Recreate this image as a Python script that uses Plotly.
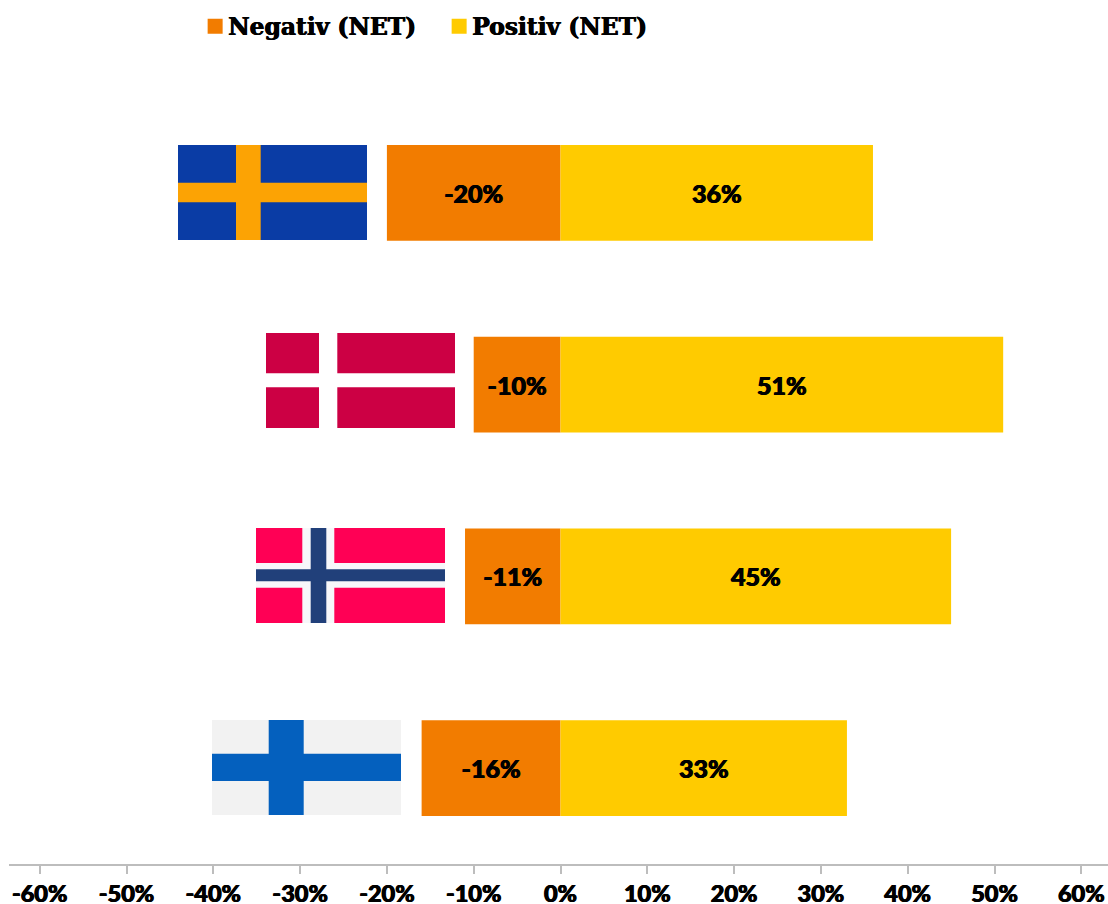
import plotly.graph_objects as go

countries = ["Sverige", "Danmark", "Norge", "Finland"]
negativ = [-20, -10, -11, -16]
positiv = [36, 51, 45, 33]
tick_values = [-60, -50, -40, -30, -20, -10, 0, 10, 20, 30, 40, 50, 60]
tick_labels = ["-60%", "-50%", "-40%", "-30%", "-20%", "-10%", "0%", "10%", "20%", "30%", "40%", "50%", "60%"]

W, H = 1108, 904
ML, MR, MT, MB = 9, 0, 97, 40
PX_PER_UNIT = 8.68
ZERO_PX = 560.5
X_RANGE = [(ML - ZERO_PX) / PX_PER_UNIT, (W - MR - ZERO_PX) / PX_PER_UNIT]
BAND = (H - MT - MB) / 4
ORANGE, YELLOW = "#F27C00", "#FFCB00"


def ux(px):
    return (px - ZERO_PX) / PX_PER_UNIT


def uy(px):
    return (px - MT) / BAND - 0.5


def rect(x0, x1, y0, y1, color):
    return dict(type="rect", xref="x", yref="y", x0=ux(x0), x1=ux(x1), y0=uy(y0), y1=uy(y1),
                fillcolor=color, line_width=0, layer="above")


flags = [
    rect(178, 367, 145, 240, "#0A3CA5"),
    rect(236, 260.7, 145, 240, "#FCA304"),
    rect(178, 367, 182.7, 202.3, "#FCA304"),

    rect(266, 455, 333, 428, "#CC0044"),
    rect(319, 337.3, 333, 428, "#FFFFFF"),
    rect(266, 455, 373.3, 387.3, "#FFFFFF"),

    rect(256, 445, 528, 623, "#FF0055"),
    rect(302.3, 334.3, 528, 623, "#F7F7FA"),
    rect(256, 445, 563, 587.7, "#F7F7FA"),
    rect(310.7, 326.3, 528, 623, "#21407A"),
    rect(256, 445, 569.3, 581.3, "#21407A"),

    rect(212, 401, 720, 815, "#F2F2F2"),
    rect(268.7, 303.7, 720, 815, "#0460BE"),
    rect(212, 401, 753.7, 781, "#0460BE"),
]

thick = "0.5px 0 0 #000, -0.5px 0 0 #000"
label_font = dict(family="Lato, Roboto, sans-serif", size=25, color="#000000", weight=900, shadow=thick)
tick_font = dict(family="Lato, Roboto, sans-serif", size=23.5, color="#000000", weight=900, shadow=thick)

fig = go.Figure()
fig.add_bar(
    name="Negativ (NET)", y=countries, x=negativ, orientation="h", showlegend=False,
    marker=dict(color=ORANGE, line_width=0),
    text=[f"{v}%" for v in negativ], textposition="inside", insidetextanchor="middle",
    textangle=0, textfont=label_font, hoverinfo="y+x",
)
fig.add_bar(
    name="Positiv (NET)", y=countries, x=positiv, orientation="h", showlegend=False,
    marker=dict(color=YELLOW, line_width=0),
    text=[f"{v}%" for v in positiv], textposition="inside", insidetextanchor="middle",
    textangle=0, textfont=label_font, hoverinfo="y+x",
)
# Legend keys: square markers of the reference's size
for name, color in (("Negativ (NET)", ORANGE), ("Positiv (NET)", YELLOW)):
    fig.add_scatter(name=name, x=[None], y=[None], mode="markers", hoverinfo="skip",
                    marker=dict(symbol="square", size=15, color=color, line_width=0))

fig.update_layout(
    width=W, height=H, autosize=False,
    margin=dict(l=ML, r=MR, t=MT, b=MB, pad=0),
    paper_bgcolor="#FFFFFF", plot_bgcolor="#FFFFFF",
    barmode="relative", bargap=0.5,
    shapes=flags,
    showlegend=True,
    legend=dict(
        orientation="h", xref="paper", yref="container",
        x=0.163, y=0.995, xanchor="left", yanchor="top",
        entrywidth=199, entrywidthmode="pixels",
        font=dict(family="DejaVu Serif, serif", size=23.4, color="#000000", weight=700,
                  shadow="0.6px 0 0 #000, -0.3px 0 0 #000"),
        itemclick=False, itemdoubleclick=False, bgcolor="rgba(0,0,0,0)", traceorder="normal",
    ),
    xaxis=dict(
        range=X_RANGE, tickmode="array", tickvals=tick_values, ticktext=tick_labels,
        showgrid=False, zeroline=False, showline=True, linecolor="#BDBDBD", linewidth=2,
        ticks="outside", ticklen=8, tickwidth=1.5, tickcolor="#BDBDBD",
        tickfont=tick_font,
        tickangle=0, automargin=False,
    ),
    yaxis=dict(
        type="category", categoryorder="array", categoryarray=countries, autorange="reversed",
        showticklabels=False, showgrid=False, zeroline=False, showline=False, ticks="",
        automargin=False,
    ),
)

fig.write_html(
    "out.html",
    config=dict(displayModeBar=False),
    post_script=(
        "document.body.style.margin='0';"
        "document.querySelectorAll('.legendsymbols').forEach(function(g){"
        "g.setAttribute('transform','translate(7,0)');});"
    ),
)
